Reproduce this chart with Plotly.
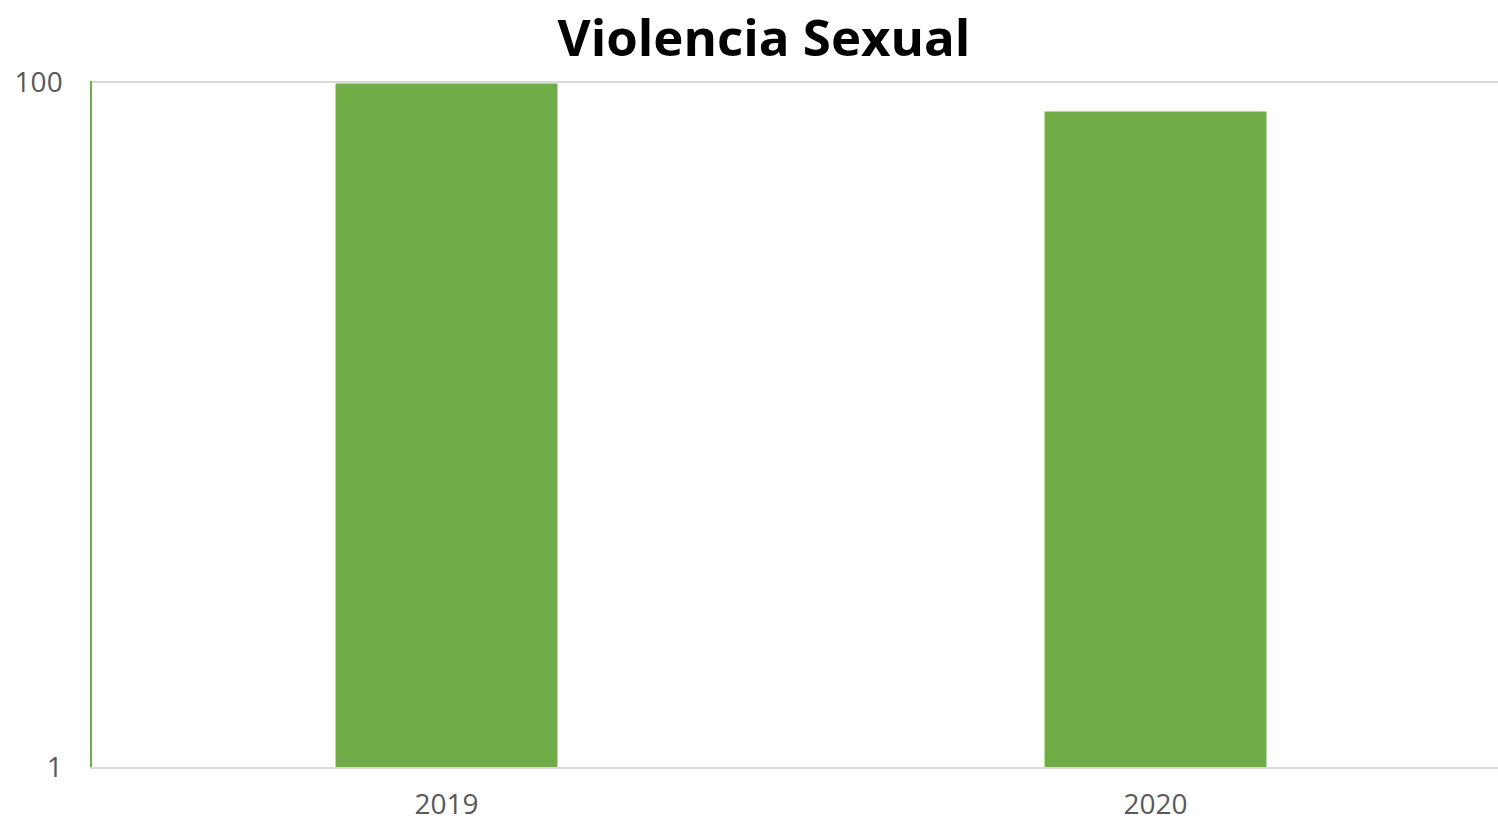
import plotly.graph_objects as go

years = ["2019", "2020"]
values = [99, 82]
y_ticks = [1, 100]
y_tick_labels = ["1", "100"]

fig = go.Figure()
fig.add_trace(go.Bar(
    x=[0, 1], y=values, width=0.313,
    marker=dict(color="#70AD47", line=dict(width=0)),
))

fig.update_layout(
    width=1498, height=821,
    margin=dict(l=92, r=0, t=81, b=54),
    paper_bgcolor="white", plot_bgcolor="white",
    showlegend=False,
    title=dict(text="<b>Violencia Sexual</b>", x=0.51, xanchor="center",
               y=1 - 38 / 821, yanchor="middle",
               font=dict(family="Open Sans", size=51, color="black")),
    font=dict(family="Open Sans", size=28, color="#595959"),
)
fig.update_xaxes(
    range=[-0.5, 1.483], tickvals=[0, 1], ticktext=years,
    showline=True, linecolor="#d9d9d9", linewidth=2,
    showgrid=False, zeroline=False, ticks="", ticklabelstandoff=11,
)
fig.update_yaxes(
    type="log", range=[0, 2.003], tickvals=y_ticks, ticktext=y_tick_labels,
    showline=True, linecolor="#70AD47", linewidth=1.5,
    showgrid=True, gridcolor="#d9d9d9", gridwidth=1.5,
    zeroline=False, ticks="", ticklabelstandoff=22,
)
fig.write_html(
    "out.html",
    config={"displayModeBar": False},
    post_script="document.body.style.margin='0';document.body.style.overflow='hidden';",
)
